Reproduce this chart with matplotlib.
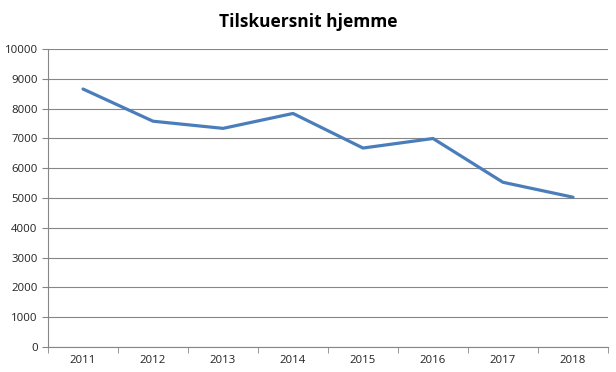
import matplotlib
matplotlib.use("Agg")
import matplotlib.pyplot as plt
from matplotlib.ticker import FixedLocator

years = ["2011", "2012", "2013", "2014", "2015", "2016", "2017", "2018"]
spectators = [8660, 7580, 7340, 7840, 6680, 7000, 5530, 5030]
y_ticks = list(range(0, 10001, 1000))

plt.rcParams["font.family"] = ["Open Sans", "DejaVu Sans"]

fig = plt.figure(figsize=(6.16, 3.72), dpi=100)
ax = fig.add_axes([0.078, 0.067, 0.909, 0.801])

x = list(range(len(years)))
ax.plot(x, spectators, color="#4a7ebb", linewidth=2.3, solid_capstyle="round")

ax.set_xlim(-0.5, len(years) - 0.5)
ax.set_ylim(0, 10000)
ax.set_yticks(y_ticks)
ax.set_xticks(x)
ax.set_xticklabels(years)
# tick marks sit between categories, like a spreadsheet chart
ax.xaxis.set_minor_locator(FixedLocator([i - 0.5 for i in range(len(years) + 1)]))

ax.grid(axis="y", color="#868686", linewidth=0.8)
ax.set_axisbelow(True)
for side in ["top", "right"]:
    ax.spines[side].set_visible(False)
ax.spines["left"].set_color("#868686")
ax.spines["bottom"].set_color("#868686")

ax.tick_params(axis="x", which="major", length=0, labelsize=8.2, pad=6, labelcolor="#222222")
ax.tick_params(axis="x", which="minor", length=4, color="#868686")
ax.tick_params(axis="y", length=4, color="#868686", labelsize=8.2, labelcolor="#222222")

fig.suptitle("Tilskuersnit hjemme", fontsize=12.5, fontweight="bold", y=0.965)

fig.savefig("out.png", dpi=100)
